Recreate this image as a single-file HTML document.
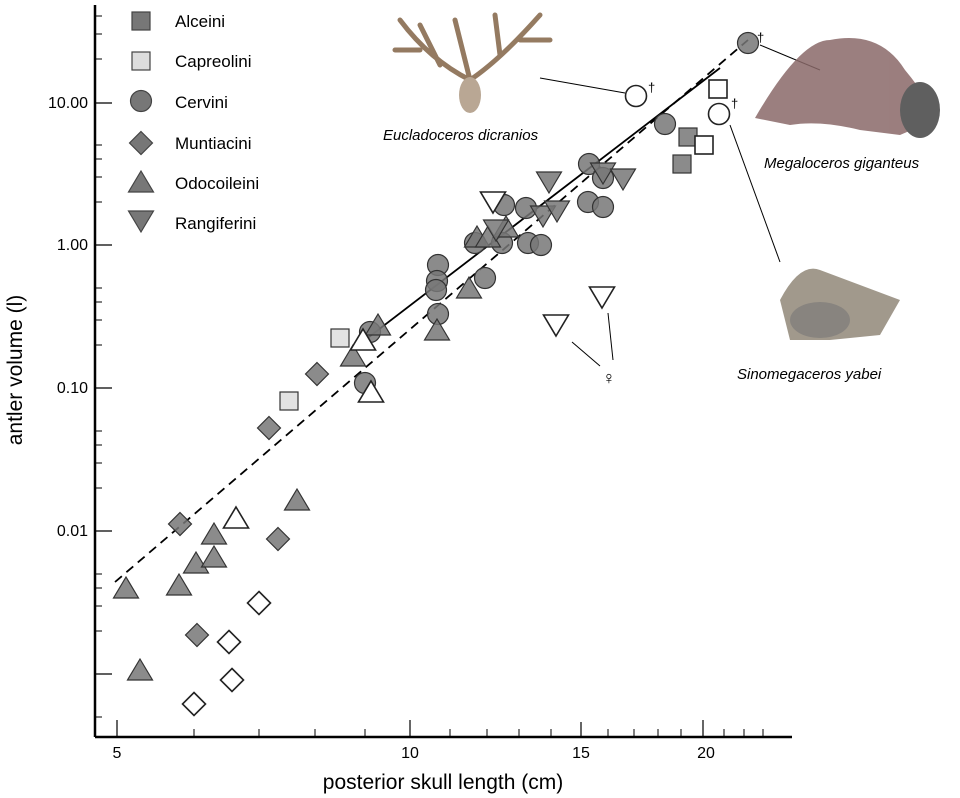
<!DOCTYPE html><html><head><style>body{margin:0;background:#fff}svg{display:block;font-family:"Liberation Sans",sans-serif}</style></head><body>
<svg width="960" height="798" viewBox="0 0 960 798">
<defs>
<g id="sq"><rect x="-9" y="-9" width="18" height="18"/></g>
<g id="ci"><circle r="10.5"/></g>
<g id="di"><polygon points="0,-11.5 11.5,0 0,11.5 -11.5,0"/></g>
<g id="tu"><polygon points="0,-11 12.5,10 -12.5,10"/></g>
<g id="td"><polygon points="0,11 12.5,-10 -12.5,-10"/></g>
</defs>
<g stroke="#000" stroke-width="2.5" fill="none"><line x1="95" y1="5" x2="95" y2="737"/><line x1="95" y1="737" x2="792" y2="737"/></g>
<g stroke="#000" stroke-width="1.2">
<line x1="95" y1="103" x2="112" y2="103"/><line x1="95" y1="245" x2="112" y2="245"/><line x1="95" y1="388" x2="112" y2="388"/><line x1="95" y1="531" x2="112" y2="531"/><line x1="95" y1="674" x2="112" y2="674"/>
<line x1="117" y1="737" x2="117" y2="720"/><line x1="410" y1="737" x2="410" y2="720"/><line x1="581" y1="737" x2="581" y2="722"/><line x1="703" y1="737" x2="703" y2="720"/>
</g>
<g stroke="#000" stroke-width="1">
<line x1="95" y1="16" x2="102" y2="16"/><line x1="95" y1="34" x2="102" y2="34"/><line x1="95" y1="59" x2="102" y2="59"/>
<line x1="95" y1="145" x2="102" y2="145"/><line x1="95" y1="159" x2="102" y2="159"/><line x1="95" y1="177" x2="102" y2="177"/><line x1="95" y1="202" x2="102" y2="202"/>
<line x1="95" y1="288" x2="102" y2="288"/><line x1="95" y1="302" x2="102" y2="302"/><line x1="95" y1="320" x2="102" y2="320"/><line x1="95" y1="345" x2="102" y2="345"/>
<line x1="95" y1="431" x2="102" y2="431"/><line x1="95" y1="445" x2="102" y2="445"/><line x1="95" y1="463" x2="102" y2="463"/><line x1="95" y1="488" x2="102" y2="488"/>
<line x1="95" y1="574" x2="102" y2="574"/><line x1="95" y1="588" x2="102" y2="588"/><line x1="95" y1="606" x2="102" y2="606"/><line x1="95" y1="631" x2="102" y2="631"/>
<line x1="95" y1="717" x2="102" y2="717"/>
<line x1="194" y1="737" x2="194" y2="729"/><line x1="259" y1="737" x2="259" y2="729"/><line x1="315" y1="737" x2="315" y2="729"/><line x1="365" y1="737" x2="365" y2="729"/>
<line x1="450" y1="737" x2="450" y2="729"/><line x1="487" y1="737" x2="487" y2="729"/><line x1="519" y1="737" x2="519" y2="729"/><line x1="551" y1="737" x2="551" y2="729"/>
<line x1="608" y1="737" x2="608" y2="729"/><line x1="634" y1="737" x2="634" y2="729"/><line x1="658" y1="737" x2="658" y2="729"/><line x1="681" y1="737" x2="681" y2="729"/>
<line x1="724" y1="737" x2="724" y2="729"/><line x1="744" y1="737" x2="744" y2="729"/><line x1="763" y1="737" x2="763" y2="729"/>
</g>
<g font-size="16" text-anchor="end"><text x="88" y="108">10.00</text><text x="88" y="250">1.00</text><text x="88" y="393">0.10</text><text x="88" y="536">0.01</text></g>
<g font-size="16" text-anchor="middle"><text x="117" y="758">5</text><text x="410" y="758">10</text><text x="581" y="758">15</text><text x="706" y="758">20</text></g>
<text x="443" y="789" font-size="21" text-anchor="middle">posterior skull length (cm)</text>
<text transform="translate(22,370) rotate(-90)" font-size="21" text-anchor="middle">antler volume (l)</text>
<g fill="#777" stroke="#444" stroke-width="1.2">
<use href="#sq" x="141" y="21"/><use href="#sq" x="141" y="61" fill="#ddd"/><use href="#ci" x="141" y="101"/><use href="#di" x="141" y="143"/><use href="#tu" x="141" y="182"/><use href="#td" x="141" y="221"/>
</g>
<g font-size="17"><text x="175" y="27">Alceini</text><text x="175" y="67">Capreolini</text><text x="175" y="108">Cervini</text><text x="175" y="149">Muntiacini</text><text x="175" y="189">Odocoileini</text><text x="175" y="229">Rangiferini</text></g>
<line x1="365" y1="340" x2="720" y2="68" stroke="#000" stroke-width="1.8"/>
<line x1="115" y1="582" x2="748" y2="40" stroke="#000" stroke-width="1.8" stroke-dasharray="9,6"/>
<g fill="#777" fill-opacity="0.85" stroke="#333" stroke-width="1.2">
<use href="#sq" x="688" y="137"/><use href="#sq" x="682" y="164"/>
<use href="#sq" x="340" y="338" fill="#ddd"/><use href="#sq" x="289" y="401" fill="#ddd"/>
<use href="#ci" x="748" y="43"/><use href="#ci" x="665" y="124"/><use href="#ci" x="589" y="164"/><use href="#ci" x="603" y="178"/><use href="#ci" x="588" y="202"/><use href="#ci" x="603" y="207"/><use href="#ci" x="526" y="208"/><use href="#ci" x="504" y="205"/><use href="#ci" x="502" y="243"/><use href="#ci" x="528" y="243"/><use href="#ci" x="541" y="245"/><use href="#ci" x="438" y="265"/><use href="#ci" x="437" y="281"/><use href="#ci" x="436" y="290"/><use href="#ci" x="485" y="278"/><use href="#ci" x="438" y="314"/><use href="#ci" x="370" y="332"/><use href="#ci" x="365" y="383"/><use href="#ci" x="475" y="243"/>
<use href="#di" x="317" y="374"/><use href="#di" x="269" y="428"/><use href="#di" x="180" y="524"/><use href="#di" x="278" y="539"/><use href="#di" x="197" y="635"/>
<use href="#tu" x="477" y="237"/><use href="#tu" x="488" y="237"/><use href="#tu" x="506" y="227"/><use href="#tu" x="469" y="288"/><use href="#tu" x="378" y="325"/><use href="#tu" x="437" y="330"/><use href="#tu" x="353" y="356"/><use href="#tu" x="126" y="588"/><use href="#tu" x="179" y="585"/><use href="#tu" x="196" y="563"/><use href="#tu" x="214" y="557"/><use href="#tu" x="214" y="534"/><use href="#tu" x="297" y="500"/><use href="#tu" x="140" y="670"/>
<use href="#td" x="549" y="182"/><use href="#td" x="603" y="173"/><use href="#td" x="623" y="179"/><use href="#td" x="543" y="216"/><use href="#td" x="557" y="211"/><use href="#td" x="496" y="230"/>
</g>
<g fill="#fff" stroke="#222" stroke-width="1.6">
<use href="#td" x="493" y="202"/><use href="#td" x="556" y="325"/><use href="#td" x="602" y="297"/>
<use href="#tu" x="363" y="340"/><use href="#tu" x="371" y="392"/><use href="#tu" x="236" y="518"/>
<use href="#di" x="259" y="603"/><use href="#di" x="229" y="642"/><use href="#di" x="232" y="680"/><use href="#di" x="194" y="704"/>
<use href="#sq" x="718" y="89"/><use href="#sq" x="704" y="145"/>
<use href="#ci" x="636" y="96" /><use href="#ci" x="719" y="114"/>
</g>
<g font-size="13"><text x="648" y="92">†</text><text x="731" y="108">†</text><text x="757" y="42">†</text></g>
<text x="609" y="384" font-size="18" text-anchor="middle">♀</text>
<g stroke="#000" stroke-width="1"><line x1="572" y1="342" x2="600" y2="366"/><line x1="608" y1="313" x2="613" y2="360"/>
<line x1="540" y1="78" x2="625" y2="93"/><line x1="760" y1="45" x2="820" y2="70"/><line x1="730" y1="125" x2="780" y2="262"/></g>
<g fill="#8a6a4a" opacity="0.8" stroke="#7a5a3a" stroke-width="5" stroke-linecap="round">
<path d="M470 80 Q430 60 400 20 M420 50 L395 50 M440 65 L420 25 M470 80 Q500 60 540 15 M520 40 L550 40 M500 55 L495 15 M470 80 L455 20" fill="none"/>
<ellipse cx="470" cy="95" rx="11" ry="18" fill="#a8927a" stroke="none"/>
</g>
<g fill="#8a6868" opacity="0.85"><path d="M755 118 Q800 40 830 40 Q880 30 905 70 Q930 100 935 120 L900 135 L860 130 Q820 120 790 125Z"/><ellipse cx="920" cy="110" rx="20" ry="28" fill="#444"/></g>
<g fill="#8a8070" opacity="0.8"><path d="M780 300 Q800 262 820 270 L900 300 L880 335 L830 340 L790 340Z"/><ellipse cx="820" cy="320" rx="30" ry="18" fill="#6b6660"/></g>
<g font-size="15" font-style="italic"><text x="383" y="140">Eucladoceros dicranios</text><text x="764" y="168">Megaloceros giganteus</text><text x="737" y="379">Sinomegaceros yabei</text></g>
</svg></body></html>
